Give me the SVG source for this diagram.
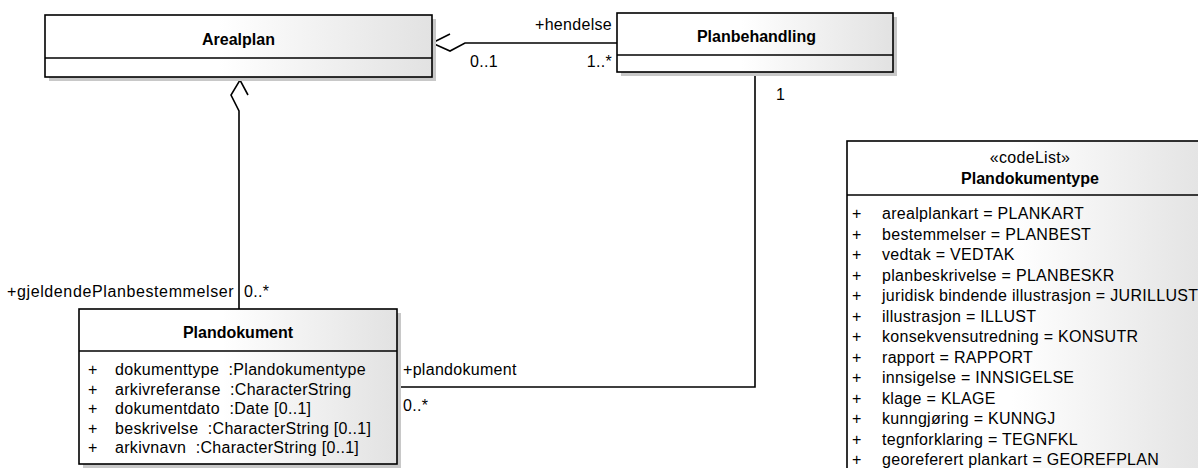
<svg xmlns="http://www.w3.org/2000/svg" width="1198" height="468" viewBox="0 0 1198 468">
<defs>
<linearGradient id="g" x1="0" y1="0" x2="1" y2="0">
<stop offset="0" stop-color="#ffffff"/>
<stop offset="0.45" stop-color="#ffffff"/>
<stop offset="1" stop-color="#e2e2e2"/>
</linearGradient>
<style>
.box{fill:url(#g);stroke:#000;stroke-width:1.6}
.sh{fill:#c8c8c8}
.ln{fill:none;stroke:#000;stroke-width:1.6}
text{font-family:"Liberation Sans",Arial,sans-serif;font-size:16px;letter-spacing:0.3px;fill:#000;white-space:pre}
.t{font-weight:bold;text-anchor:middle;letter-spacing:0}
.c{text-anchor:middle}
.e{text-anchor:end}
</style>
</defs>
<rect width="1198" height="468" fill="#fff"/>
<g id="connectors">
<polyline class="ln" points="450,34 432,43 450,51 465,43 617,43"/>
<polyline class="ln" points="248,95 240,80 231,95 239,111 239,309"/>
<polyline class="ln" points="755,72 755,387 397,387"/>
<text x="612" y="30" class="e">+hendelse</text>
<text x="470" y="67">0..1</text>
<text x="612" y="67" class="e">1..*</text>
<text x="776" y="100">1</text>
<text x="7" y="297" textLength="227" lengthAdjust="spacing">+gjeldendePlanbestemmelser</text>
<text x="244" y="297">0..*</text>
<text x="403" y="375">+plandokument</text>
<text x="403" y="411">0..*</text>
</g>
<g id="Arealplan">
<rect class="sh" x="49" y="19" width="387" height="62"/>
<rect class="box" x="45" y="15" width="387" height="62"/>
<line class="ln" x1="45" y1="58" x2="432" y2="58"/>
<text x="238.5" y="45" class="t">Arealplan</text>
</g>
<g id="Planbehandling">
<rect class="sh" x="621" y="17" width="276" height="59"/>
<rect class="box" x="617" y="13" width="276" height="59"/>
<line class="ln" x1="617" y1="55" x2="893" y2="55"/>
<text x="756.5" y="42" class="t">Planbehandling</text>
</g>
<g id="Plandokument">
<rect class="sh" x="83" y="313" width="318" height="155"/>
<rect class="box" x="79" y="309" width="318" height="155"/>
<line class="ln" x1="79" y1="351" x2="397" y2="351"/>
<text x="238" y="338" class="t">Plandokument</text>
<text x="88" y="375">+</text><text x="115" y="375" xml:space="preserve">dokumenttype  :Plandokumentype</text>
<text x="88" y="394.5">+</text><text x="115" y="394.5" xml:space="preserve">arkivreferanse  :CharacterString</text>
<text x="88" y="414">+</text><text x="115" y="414" xml:space="preserve">dokumentdato  :Date [0..1]</text>
<text x="88" y="433.5">+</text><text x="115" y="433.5" xml:space="preserve">beskrivelse  :CharacterString [0..1]</text>
<text x="88" y="453">+</text><text x="115" y="453" xml:space="preserve">arkivnavn  :CharacterString [0..1]</text>
</g>
<g id="Plandokumentype">
<rect class="box" x="847" y="141" width="366" height="340"/>
<line class="ln" x1="847" y1="195" x2="1213" y2="195"/>
<text x="1030" y="163" class="c">«codeList»</text>
<text x="1030" y="184" class="t">Plandokumentype</text>
<text x="852" y="219">+</text><text x="882" y="219">arealplankart = PLANKART</text>
<text x="852" y="239.5">+</text><text x="882" y="239.5">bestemmelser = PLANBEST</text>
<text x="852" y="260">+</text><text x="882" y="260">vedtak = VEDTAK</text>
<text x="852" y="280.5">+</text><text x="882" y="280.5">planbeskrivelse = PLANBESKR</text>
<text x="852" y="301">+</text><text x="882" y="301">juridisk bindende illustrasjon = JURILLUST</text>
<text x="852" y="321.5">+</text><text x="882" y="321.5">illustrasjon = ILLUST</text>
<text x="852" y="342">+</text><text x="882" y="342">konsekvensutredning = KONSUTR</text>
<text x="852" y="362.5">+</text><text x="882" y="362.5">rapport = RAPPORT</text>
<text x="852" y="383">+</text><text x="882" y="383">innsigelse = INNSIGELSE</text>
<text x="852" y="403.5">+</text><text x="882" y="403.5">klage = KLAGE</text>
<text x="852" y="424">+</text><text x="882" y="424">kunngjøring = KUNNGJ</text>
<text x="852" y="444.5">+</text><text x="882" y="444.5">tegnforklaring = TEGNFKL</text>
<text x="852" y="465">+</text><text x="882" y="465">georeferert plankart = GEOREFPLAN</text>
</g>
</svg>
